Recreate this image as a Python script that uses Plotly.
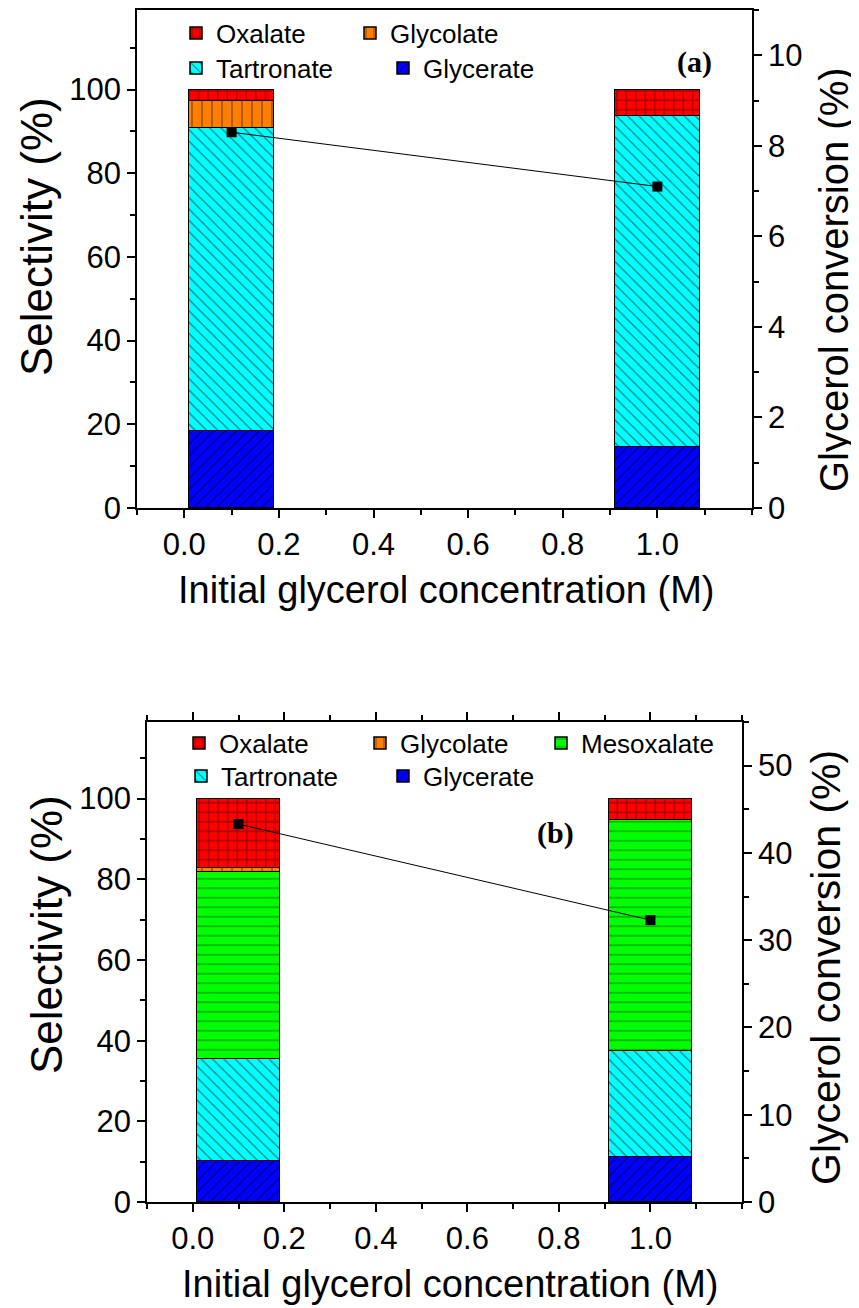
import plotly.graph_objects as go

# ---------------- data ----------------
concentration = [0.1, 1.0]
x_tick_vals = [0.0, 0.2, 0.4, 0.6, 0.8, 1.0]
x_tick_text = ["0.0", "0.2", "0.4", "0.6", "0.8", "1.0"]

# panel (a) selectivity (%)
a_glycerate = [18.5, 14.5]
a_tartronate = [72.3, 79.2]
a_glycolate = [6.5, 0.0]
a_oxalate = [2.7, 6.3]
a_conversion = [8.3, 7.1]

# panel (b) selectivity (%)
b_glycerate = [10.2, 11.2]
b_tartronate = [25.2, 26.2]
b_mesoxalate = [46.3, 57.3]
b_glycolate = [1.0, 0.0]
b_oxalate = [17.3, 5.3]
b_conversion = [43.3, 32.3]

# ---------------- styles ----------------
STYLE = {
    "Oxalate":    dict(color="#FF0000", shape="+",  fg="#4a0000", size=9.5, solidity=0.25),
    "Glycolate":  dict(color="#FF8000", shape="|",  fg="#5a2800", size=10, solidity=0.18),
    "Mesoxalate": dict(color="#00FF00", shape="-",  fg="#004d00", size=9.5, solidity=0.15),
    "Tartronate": dict(color="#00FFFF", shape="\\", fg="#000000", size=8, solidity=0.15),
    "Glycerate":  dict(color="#0000FF", shape="/",  fg="#000000", size=8, solidity=0.15),
}

OFF = 8                      # page body margin of the html page
W, H = 859 - OFF, 1308 - OFF
PL, PR, PT, PB = 137, 752, 10, 1202     # plot-region edges in screen pixels
L, T = PL - OFF, PT - OFF
R, B = W - (PR - OFF), H - (PB - OFF)
GW, GH = PR - PL, PB - PT

def px_x(sx):
    return (sx - PL) / GW

def px_y(sy):
    return (PB - sy) / GH

FR = "Liberation Sans, Arial, sans-serif"

fig = go.Figure()

def add_bar(name, vals, xa, ya, legend):
    s = STYLE[name]
    fig.add_trace(go.Bar(
        x=concentration, y=vals, name=name, width=0.18,
        xaxis=xa, yaxis=ya, legend=legend,
        marker=dict(color=s["color"], line=dict(color="black", width=1.5),
                    pattern=dict(shape=s["shape"], fgcolor=s["fg"], bgcolor=s["color"],
                                 size=s["size"], solidity=s["solidity"], fillmode="overlay")),
    ))

# panel (a) - bottom to top
add_bar("Glycerate", a_glycerate, "x", "y", "legend2")
add_bar("Tartronate", a_tartronate, "x", "y", "legend2")
add_bar("Glycolate", a_glycolate, "x", "y", "legend")
add_bar("Oxalate", a_oxalate, "x", "y", "legend")
fig.add_trace(go.Scatter(x=concentration, y=a_conversion, xaxis="x", yaxis="y2",
                         mode="lines+markers", showlegend=False,
                         line=dict(color="black", width=1),
                         marker=dict(symbol="square", size=10, color="black")))

# panel (b)
add_bar("Glycerate", b_glycerate, "x2", "y3", "legend4")
add_bar("Tartronate", b_tartronate, "x2", "y3", "legend4")
add_bar("Mesoxalate", b_mesoxalate, "x2", "y3", "legend3")
add_bar("Glycolate", b_glycolate, "x2", "y3", "legend3")
add_bar("Oxalate", b_oxalate, "x2", "y3", "legend3")
fig.add_trace(go.Scatter(x=concentration, y=b_conversion, xaxis="x2", yaxis="y4",
                         mode="lines+markers", showlegend=False,
                         line=dict(color="black", width=1),
                         marker=dict(symbol="square", size=10, color="black")))

tickfont = dict(family=FR, size=31, color="black")
common = dict(showline=True, linecolor="black", linewidth=1.5, ticks="outside",
              ticklen=8, tickwidth=1.5, tickcolor="black", showgrid=False,
              zeroline=False, tickfont=tickfont)

def xaxis(domain, anchor):
    return dict(domain=domain, anchor=anchor, range=[-0.1, 1.2],
                tickmode="array", tickvals=x_tick_vals, ticktext=x_tick_text,
                mirror="ticks",
                minor=dict(dtick=0.1, tick0=0, ticks="outside", ticklen=5,
                           tickwidth=1.5, tickcolor="black"),
                **common)

def yleft(domain, anchor):
    return dict(domain=domain, anchor=anchor, range=[0, 119], dtick=20, tick0=0,
                minor=dict(dtick=10, tick0=0, ticks="outside", ticklen=5,
                           tickwidth=1.5, tickcolor="black"),
                **common)

def yright(anchor, overlay, rng, dt):
    return dict(anchor=anchor, overlaying=overlay, side="right", range=rng, dtick=dt, tick0=0,
                minor=dict(dtick=dt / 2, tick0=0, ticks="outside", ticklen=5,
                           tickwidth=1.5, tickcolor="black"),
                **common)

leg_common = dict(orientation="h", xanchor="left", yanchor="middle",
                  traceorder="reversed", bgcolor="rgba(0,0,0,0)", borderwidth=0,
                  font=dict(family=FR, size=26, color="black"),
                  entrywidthmode="pixels")

fig.update_layout(
    width=W, height=H,
    margin=dict(l=L, r=R, t=T, b=B, autoexpand=False),
    paper_bgcolor="white", plot_bgcolor="white",
    barmode="stack", bargap=0,
    xaxis=xaxis([0, 1], "y"),
    yaxis=yleft([px_y(508), 1], "x"),
    yaxis2=yright("x", "y", [0, 11], 2),
    xaxis2=xaxis([px_x(147), px_x(742)], "y3"),
    yaxis3=yleft([0, px_y(722)], "x2"),
    yaxis4=yright("x2", "y3", [0, 55], 10),
    legend=dict(x=px_x(176), y=px_y(33), entrywidth=129, **leg_common),
    legend2=dict(x=px_x(176), y=px_y(68), entrywidth=162, **leg_common),
    legend3=dict(x=px_x(179), y=px_y(743), entrywidth=136, **leg_common),
    legend4=dict(x=px_x(181), y=px_y(776), entrywidth=157, **leg_common),
    showlegend=True,
)

def ann(text, sx, sy, size, family=FR, angle=0, bold=False):
    fig.add_annotation(text=("<b>%s</b>" % text) if bold else text,
                       x=px_x(sx), y=px_y(sy), xref="paper", yref="paper",
                       showarrow=False, textangle=angle,
                       xanchor="center", yanchor="middle",
                       font=dict(family=family, size=size, color="black"))

ann("(a)", 694, 62, 30, family="Liberation Serif, Times New Roman, serif", bold=True)
ann("(b)", 555, 833, 30, family="Liberation Serif, Times New Roman, serif", bold=True)
ann("Selectivity (%)", 36, 237, 44, angle=-90)
ann("Selectivity (%)", 46, 935, 44, angle=-90)
ann("Glycerol conversion (%)", 834, 280, 40, angle=-90)
ann("Glycerol conversion (%)", 826, 968, 41, angle=-90)
ann("Initial glycerol concentration (M)", 446, 590, 38)
ann("Initial glycerol concentration (M)", 450, 1284, 38)

fig.write_html("out.html")
